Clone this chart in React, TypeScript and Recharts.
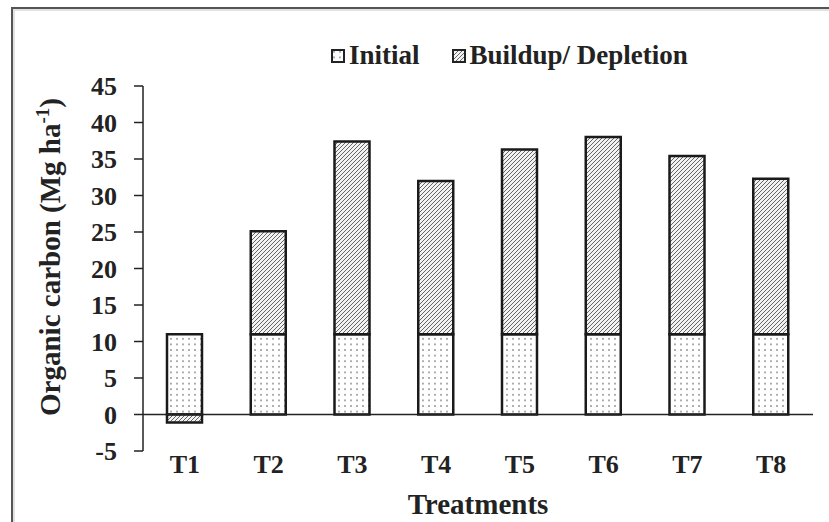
import React from 'react';
import { BarChart, Bar, XAxis, YAxis, ReferenceLine } from 'recharts';

const treatments = ['T1', 'T2', 'T3', 'T4', 'T5', 'T6', 'T7', 'T8'];
const initial = [11, 11, 11, 11, 11, 11, 11, 11];
const buildup = [-1.1, 14.1, 26.4, 21.0, 25.3, 27.0, 24.4, 21.3];
const yTicks = [-5, 0, 5, 10, 15, 20, 25, 30, 35, 40, 45];
const seriesNames = ['Initial', 'Buildup/ Depletion'];

const data = treatments.map((t, i) => ({ name: t, initial: initial[i], buildup: buildup[i] }));

const FONT = '"Liberation Serif", "Times New Roman", serif';

const Patterns = () => (
  <defs>
    <pattern id="dots" width="6" height="5.6" patternUnits="userSpaceOnUse">
      <rect width="6" height="5.6" fill="#fff" />
      <circle cx="3" cy="2.8" r="0.75" fill="#333" />
    </pattern>
    <pattern id="hatch" width="4" height="4" patternUnits="userSpaceOnUse">
      <rect width="4" height="4" fill="#f2f2f2" />
      <path d="M-1,1 l2,-2 M0,4 l4,-4 M3,5 l2,-2" stroke="#666" strokeWidth="1" />
    </pattern>
  </defs>
);

const XTick = (props: any) => {
  const { x, y, payload } = props;
  return (
    <text x={x} y={y + 14} textAnchor="middle" fontFamily={FONT} fontWeight="bold" fontSize={26} fill="#222">
      {payload.value}
    </text>
  );
};

const YLabel = () => (
  <text
    x={60}
    y={257}
    transform="rotate(-90 60 257)"
    textAnchor="middle"
    fontFamily={FONT}
    fontWeight="bold"
    fontSize={29}
    fill="#222"
  >
    Organic carbon (Mg ha<tspan dy={-11} fontSize={19}>-1</tspan>
    <tspan dy={11}>)</tspan>
  </text>
);

const LegendIcon = ({ fill }: { fill: string }) => (
  <svg width="15" height="14" style={{ marginRight: 3 }}>
    <rect x="1" y="1" width="12" height="12" fill={fill} stroke="#222" strokeWidth="2" />
  </svg>
);

export default function App() {
  return (
    <div
      style={{
        position: 'absolute',
        left: 0,
        top: 0,
        width: 829,
        height: 522,
        overflow: 'hidden',
        background: '#fff',
      }}
    >
      <div
        style={{
          position: 'absolute',
          left: 11,
          top: 7,
          width: 900,
          height: 600,
          borderTop: '2px solid #555',
          borderLeft: '2px solid #555',
          boxShadow: 'inset 2px 2px 0 #e2e2e2',
        }}
      />
      <svg width="0" height="0" style={{ position: 'absolute' }}>
        <Patterns />
      </svg>
      <div
        style={{
          position: 'absolute',
          left: 331,
          top: 40,
          display: 'flex',
          alignItems: 'center',
          fontFamily: FONT,
          fontWeight: 'bold',
          fontSize: 27,
          color: '#222',
        }}
      >
        <LegendIcon fill="url(#dots)" />
        <span style={{ marginRight: 32 }}>{seriesNames[0]}</span>
        <LegendIcon fill="url(#hatch)" />
        <span>{seriesNames[1]}</span>
      </div>
      <div style={{ position: 'absolute', left: 0, top: 0 }}>
        <BarChart
          width={829}
          height={522}
          data={data}
          stackOffset="sign"
          margin={{ top: 86, right: 16, bottom: 0, left: 0 }}
          barCategoryGap={0}
        >
          <XAxis
            dataKey="name"
            axisLine={false}
            tickLine={false}
            tick={<XTick />}
            height={71}
            interval={0}
            label={{
              value: 'Treatments',
              position: 'insideBottom',
              offset: 8,
              fontFamily: FONT,
              fontWeight: 'bold',
              fontSize: 29,
              fill: '#222',
            }}
          />
          <YAxis
            type="number"
            domain={[-5, 45]}
            ticks={yTicks}
            interval={0}
            width={143}
            axisLine={{ stroke: '#222', strokeWidth: 1.5 }}
            tickLine={{ stroke: '#222', strokeWidth: 1.5 }}
            tickSize={9}
            tickMargin={17}
            tick={{ fontFamily: FONT, fontWeight: 'bold', fontSize: 26, fill: '#222' }}
            label={<YLabel />}
          />
          <ReferenceLine y={0} stroke="#222" strokeWidth={1.5} />
          <Bar
            dataKey="initial"
            name={seriesNames[0]}
            stackId="a"
            fill="url(#dots)"
            stroke="#1a1a1a"
            strokeWidth={2.5}
            barSize={35}
            isAnimationActive={false}
          />
          <Bar
            dataKey="buildup"
            name={seriesNames[1]}
            stackId="a"
            fill="url(#hatch)"
            stroke="#1a1a1a"
            strokeWidth={2.5}
            barSize={35}
            isAnimationActive={false}
          />
        </BarChart>
      </div>
    </div>
  );
}
